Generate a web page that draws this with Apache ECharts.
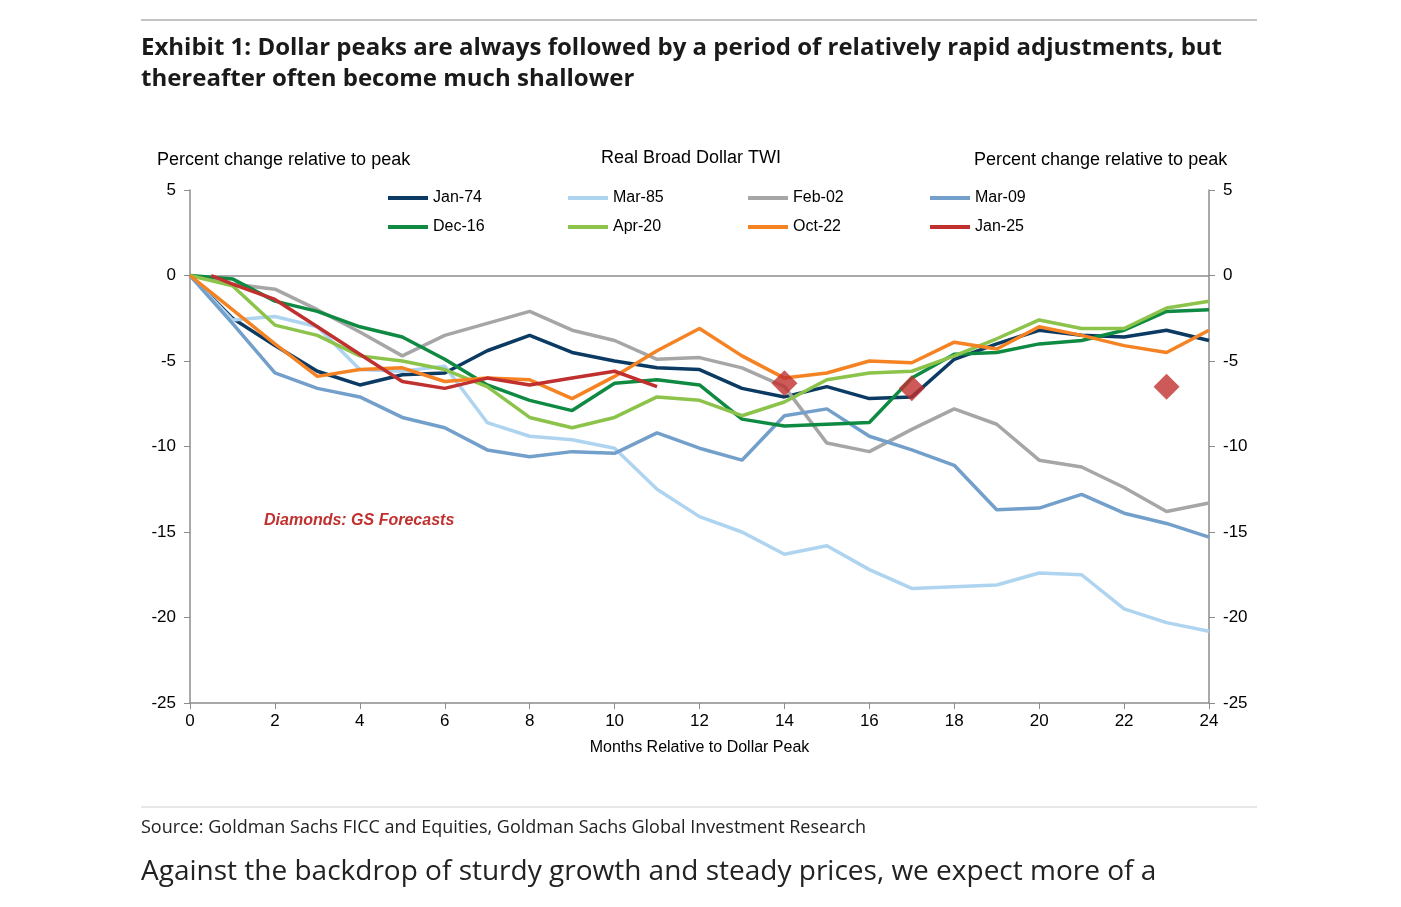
<!DOCTYPE html>
<html><head><meta charset="utf-8">
<script src="https://cdn.jsdelivr.net/npm/echarts@6/dist/echarts.min.js"></script>
<style>html,body{margin:0;padding:0;background:#fff}#c{width:1401px;height:907px}</style>
</head><body><div id="c"></div>
<script>
const months = [0,1,2,3,4,5,6,7,8,9,10,11,12,13,14,15,16,17,18,19,20,21,22,23,24];
const jan74 = [0,-2.5,-4.1,-5.6,-6.4,-5.8,-5.7,-4.4,-3.5,-4.5,-5.0,-5.4,-5.5,-6.6,-7.1,-6.5,-7.2,-7.1,-4.9,-4.0,-3.2,-3.5,-3.6,-3.2,-3.8];
const mar85 = [0,-2.6,-2.4,-3.0,-5.5,-5.6,-5.3,-8.6,-9.4,-9.6,-10.1,-12.5,-14.1,-15.0,-16.3,-15.8,-17.2,-18.3,-18.2,-18.1,-17.4,-17.5,-19.5,-20.3,-20.8];
const feb02 = [0,-0.5,-0.8,-2.0,-3.3,-4.7,-3.5,-2.8,-2.1,-3.2,-3.8,-4.9,-4.8,-5.4,-6.5,-9.8,-10.3,-9.0,-7.8,-8.7,-10.8,-11.2,-12.4,-13.8,-13.3];
const mar09 = [0,-2.8,-5.7,-6.6,-7.1,-8.3,-8.9,-10.2,-10.6,-10.3,-10.4,-9.2,-10.1,-10.8,-8.2,-7.8,-9.4,-10.2,-11.1,-13.7,-13.6,-12.8,-13.9,-14.5,-15.3];
const dec16 = [0,-0.2,-1.5,-2.1,-3.0,-3.6,-4.9,-6.4,-7.3,-7.9,-6.3,-6.1,-6.4,-8.4,-8.8,-8.7,-8.6,-6.0,-4.6,-4.5,-4.0,-3.8,-3.2,-2.1,-2.0];
const apr20 = [0,-0.6,-2.9,-3.5,-4.7,-5.0,-5.5,-6.5,-8.3,-8.9,-8.3,-7.1,-7.3,-8.2,-7.4,-6.1,-5.7,-5.6,-4.7,-3.7,-2.6,-3.1,-3.1,-1.9,-1.5];
const oct22 = [0,-2.0,-4.0,-5.9,-5.5,-5.4,-6.2,-6.0,-6.1,-7.2,-5.9,-4.4,-3.1,-4.7,-6.0,-5.7,-5.0,-5.1,-3.9,-4.3,-3.0,-3.5,-4.1,-4.5,-3.2];
const jan25Months = [0.5,1,2,3,4,5,6,7,8,9,10,11];
const jan25 = [0,-0.5,-1.4,-3.0,-4.6,-6.2,-6.6,-6.0,-6.4,-6.0,-5.6,-6.5];
const fcMonths = [14,17,23];
const fcValues = [-6.3,-6.6,-6.5];

const names = ['Jan-74','Mar-85','Feb-02','Mar-09','Dec-16','Apr-20','Oct-22','Jan-25'];
const colors = ['#0b3a63','#aed4f0','#a6a6a6','#739fcb','#0f8a43','#8cc34a','#f58323','#c0302e'];
const arrs = [jan74,mar85,feb02,mar09,dec16,apr20,oct22];
const pair = (xs,ys)=>xs.map((x,i)=>[x,ys[i]]);

const series = arrs.map((a,i)=>({name:names[i],type:'line',data:pair(months,a),symbol:'none',
  lineStyle:{width:3.5,color:colors[i]},itemStyle:{color:colors[i]},z:i+2}));
series.push({name:'Jan-25',type:'line',data:pair(jan25Months,jan25),symbol:'none',lineStyle:{width:3.5,color:colors[7]},itemStyle:{color:colors[7]},z:10});
series.push({name:'fc',type:'scatter',data:pair(fcMonths,fcValues),symbol:'diamond',symbolSize:26,itemStyle:{color:'#c0302e'},z:11});
series[0].markLine={silent:true,symbol:'none',label:{show:false},lineStyle:{color:'#8c8c8c',width:1.5,type:'solid'},data:[{yAxis:0}]};

const legX=[388,568,748,930], legY=[190,219];
const legends = names.map((n,i)=>({data:[n],left:legX[i%4],top:legY[Math.floor(i/4)],itemWidth:40,itemHeight:4,
  icon:'rect',textStyle:{fontFamily:'Liberation Sans',fontSize:16,color:'#000'},selectedMode:false,padding:0}));

const yAx = (pos)=>({type:'value',min:-25,max:5,interval:5,position:pos,
  axisLine:{show:true,lineStyle:{color:'#8c8c8c',width:1.5}},axisTick:{show:true,length:6,lineStyle:{color:'#8c8c8c'}},
  splitLine:{show:false},axisLabel:{fontFamily:'Liberation Sans',fontSize:17,color:'#000',margin:14}});

const chart = echarts.init(document.getElementById('c'));
chart.setOption({
  animation:false,
  grid:{left:190,right:192,top:190,bottom:204},
  legend:legends,
  xAxis:{type:'value',min:0,max:24,interval:2,
    axisLine:{onZero:false,lineStyle:{color:'#8c8c8c',width:1.5}},axisTick:{length:6,lineStyle:{color:'#8c8c8c'}},
    splitLine:{show:false},axisLabel:{fontFamily:'Liberation Sans',fontSize:17,color:'#000',margin:10},
    name:'Months Relative to Dollar Peak',nameLocation:'middle',nameGap:37,nameTextStyle:{fontFamily:'Liberation Sans',fontSize:16,color:'#000'}},
  yAxis:[yAx('left'),yAx('right')],
  series,
  graphic:[
    {type:'line',shape:{x1:141,y1:20,x2:1257,y2:20},style:{stroke:'#b0b0b0',lineWidth:1.5}},
    {type:'text',left:141,top:33,style:{text:'Exhibit 1: Dollar peaks are always followed by a period of relatively rapid adjustments, but\nthereafter often become much shallower',font:'bold 24px "Open Sans"',lineHeight:31,fill:'#1a1a1a'}},
    {type:'text',left:157,top:151,style:{text:'Percent change relative to peak',font:'18px "Liberation Sans"',fill:'#000'}},
    {type:'text',left:601,top:149,style:{text:'Real Broad Dollar TWI',font:'18px "Liberation Sans"',fill:'#000'}},
    {type:'text',left:974,top:151,style:{text:'Percent change relative to peak',font:'18px "Liberation Sans"',fill:'#000'}},
    {type:'text',left:264,top:513,style:{text:'Diamonds: GS Forecasts',font:'italic bold 16px "Liberation Sans"',fill:'#c0302e'}},
    {type:'line',shape:{x1:141,y1:807,x2:1257,y2:807},style:{stroke:'#d0d0d0',lineWidth:1}},
    {type:'text',left:141,top:819,style:{text:'Source: Goldman Sachs FICC and Equities, Goldman Sachs Global Investment Research',font:'18px "Open Sans"',fill:'#222'}},
    {type:'text',left:141,top:858,style:{text:'Against the backdrop of sturdy growth and steady prices, we expect more of a',font:'28px "Open Sans"',fill:'#222'}}
  ]
});
</script></body></html>
